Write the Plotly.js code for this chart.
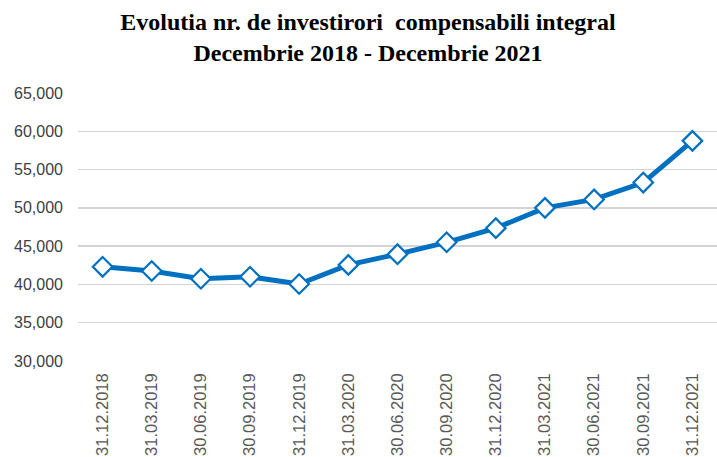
<!DOCTYPE html>
<html>
<head>
<meta charset="utf-8">
<script src="https://cdn.plot.ly/plotly-3.0.1.min.js"></script>
<style>html,body{margin:0;padding:0;background:#fff;}#chart{width:717px;height:457px;}</style>
</head>
<body>
<div id="chart"></div>
<script>
const categories = ["31.12.2018","31.03.2019","30.06.2019","30.09.2019","31.12.2019","31.03.2020","30.06.2020","30.09.2020","31.12.2020","31.03.2021","30.06.2021","30.09.2021","31.12.2021"];
const investitori = [42300, 41750, 40750, 41000, 40050, 42550, 43950, 45500, 47350, 50000, 51100, 53300, 58750];
const yTicks = [30000, 35000, 40000, 45000, 50000, 55000, 60000, 65000];
const yTickLabels = ["30,000","35,000","40,000","45,000","50,000","55,000","60,000","65,000"];
const titleText = "<b>Evolutia nr. de investirori  compensabili integral<br>Decembrie 2018 - Decembrie 2021</b>";

const trace = {
  type: "scatter",
  mode: "lines+markers",
  x: categories.map((c, i) => i),
  y: investitori,
  line: {color: "#0070C0", width: 5},
  marker: {symbol: "diamond", size: 15, color: "#ffffff", line: {color: "#0070C0", width: 2.2}},
  hoverinfo: "y",
  showlegend: false
};

const layout = {
  width: 717, height: 457,
  margin: {l: 78, r: 0, t: 93, b: 96},
  paper_bgcolor: "#ffffff", plot_bgcolor: "#ffffff",
  title: {
    text: titleText,
    font: {family: "Liberation Serif, Times New Roman, serif", size: 24, color: "#000000"},
    x: 368/717, xanchor: "center", xref: "container",
    y: 1 - 30/457, yanchor: "top", yref: "container"
  },
  xaxis: {
    type: "linear",
    range: [-0.5, 12.5],
    tickmode: "array",
    tickvals: categories.map((c, i) => i),
    ticktext: categories,
    tickangle: -90,
    tickfont: {family: "Liberation Sans, Arial, sans-serif", size: 16.5, color: "#595959"},
    ticks: "", showgrid: false, zeroline: false, showline: false,
    ticklabelstandoff: 8,
    fixedrange: true
  },
  yaxis: {
    range: [30000, 65000],
    tickmode: "array",
    tickvals: yTicks,
    ticktext: yTickLabels,
    tickfont: {family: "Liberation Sans, Arial, sans-serif", size: 16, color: "#404040"},
    showgrid: true, gridcolor: "#d4d4d4", gridwidth: 1.5,
    zeroline: false, showline: false, ticks: "",
    ticklabelstandoff: 14,
    fixedrange: true
  }
};

Plotly.newPlot("chart", [trace], layout, {displayModeBar: false, staticPlot: true});
</script>
</body>
</html>
